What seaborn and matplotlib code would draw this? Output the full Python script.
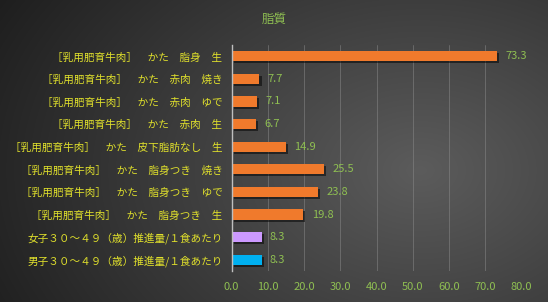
import numpy as np
import pandas as pd
import matplotlib
matplotlib.use("Agg")
import matplotlib.pyplot as plt
import matplotlib.patheffects as pe
import seaborn as sns

categories = [
    "［乳用肥育牛肉］　かた　脂身　生",
    "［乳用肥育牛肉］　かた　赤肉　焼き",
    "［乳用肥育牛肉］　かた　赤肉　ゆで",
    "［乳用肥育牛肉］　かた　赤肉　生",
    "［乳用肥育牛肉］　かた　皮下脂肪なし　生",
    "［乳用肥育牛肉］　かた　脂身つき　焼き",
    "［乳用肥育牛肉］　かた　脂身つき　ゆで",
    "［乳用肥育牛肉］　かた　脂身つき　生",
    "女子３０～４９（歳）推進量/１食あたり",
    "男子３０～４９（歳）推進量/１食あたり",
]
values = [73.3, 7.7, 7.1, 6.7, 14.9, 25.5, 23.8, 19.8, 8.3, 8.3]
bar_colors = ["#f07a2c"] * 8 + ["#cc99ff", "#00b0f0"]
x_ticks = [0, 10, 20, 30, 40, 50, 60, 70, 80]
title = "脂質"

sns.set_theme(style="white")
plt.rcParams['font.family'] = ['Noto Sans CJK JP', 'DejaVu Sans']

W, H = 548, 302
fig = plt.figure(figsize=(W / 100, H / 100), dpi=100)

# background gradient
bg = fig.add_axes([0, 0, 1, 1], zorder=-10)
yy, xx = np.mgrid[0:H, 0:W]
d = np.sqrt(((xx - 420) / 420.0) ** 2 + ((yy - 170) / 300.0) ** 2)
v = np.clip(0.36 - 0.21 * d, 0.11, 0.36)
img = np.dstack([v, v, v])
bg.imshow(img, aspect='auto', extent=[0, 1, 0, 1])
bg.axis('off')

ax = fig.add_axes([231.5 / W, 1 - 271 / H, (521.7 - 231.5) / W, (271 - 45) / H])
ax.patch.set_alpha(0)

df = pd.DataFrame({"cat": categories, "val": values})
sns.barplot(data=df, x="val", y="cat", hue="cat", palette=bar_colors,
            legend=False, width=0.45, ax=ax, saturation=1, orient="h")

for p in ax.patches:
    p.set_path_effects([pe.SimplePatchShadow(offset=(1.5, -1.5), shadow_rgbFace='black', alpha=0.5), pe.Normal()])
    p.set_edgecolor('none')

for i, v_ in enumerate(values):
    ax.text(v_ + 2.3, i, f"{v_:.1f}", va='center', ha='left', color='#8fbf52', fontsize=8)

ax.set_xlim(0, 80)
ax.set_ylim(len(categories) - 0.5, -0.5)
ax.set_xticks(x_ticks)
ax.set_xticklabels([f"{t:.1f}" for t in x_ticks], color='#8fbf52', fontsize=8)
ax.set_yticks(range(len(categories)))
ax.set_yticklabels(categories, color='#e0e02c', fontsize=7.65)
ax.tick_params(axis='x', length=0, pad=8)
ax.tick_params(axis='y', length=0, pad=6.5)
ax.set_xlabel("")
ax.set_ylabel("")
ax.grid(axis='x', color='#8a8a8a', linewidth=0.6, alpha=0.6)
ax.set_axisbelow(True)
for s in ["top", "right", "bottom"]:
    ax.spines[s].set_visible(False)
ax.spines["left"].set_color('#bfbfbf')
ax.spines["left"].set_linewidth(1.0)

fig.text(274 / W, 1 - 19 / H, title, color='#8fbf52', fontsize=9, ha='center', va='center')

fig.savefig("out.png", dpi=100)
